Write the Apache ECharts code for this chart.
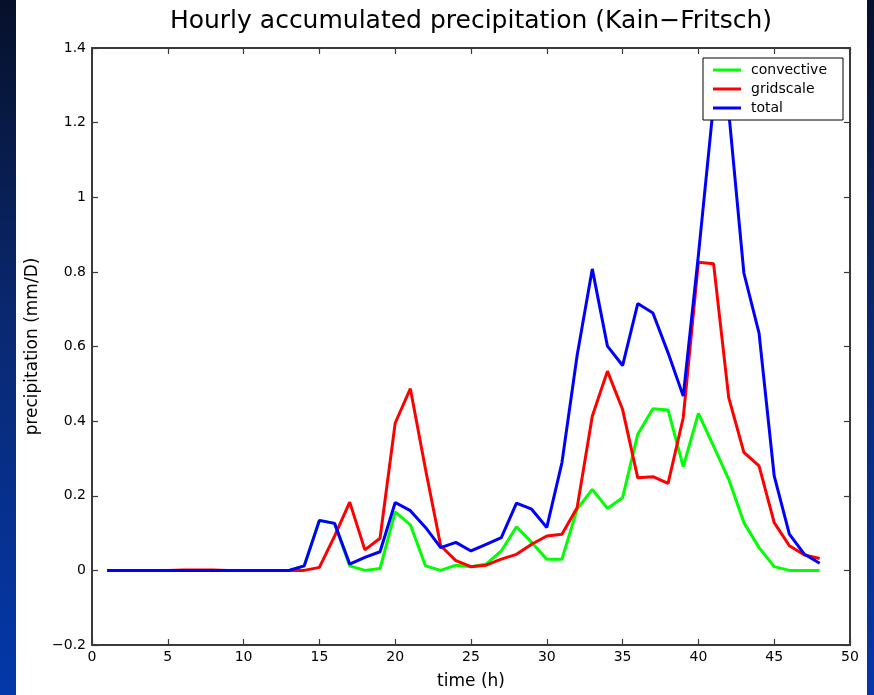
<!DOCTYPE html>
<html>
<head>
<meta charset="utf-8">
<script src="https://cdn.jsdelivr.net/npm/echarts@6/dist/echarts.min.js"></script>
<style>
  html, body { margin: 0; padding: 0; }
  #chart { width: 874px; height: 695px; }
</style>
</head>
<body>
<div id="chart"></div>
<script>
// ---- data ----
const titleText = 'Hourly accumulated precipitation (Kain\u2212Fritsch)';
const xAxisTitle = 'time (h)';
const yAxisTitle = 'precipitation (mm/D)';
const seriesNames = ['convective', 'gridscale', 'total'];
const hours = [1,2,3,4,5,6,7,8,9,10,11,12,13,14,15,16,17,18,19,20,21,22,23,24,25,26,27,28,29,30,31,32,33,34,35,36,37,38,39,40,41,42,43,44,45,46,47,48];
const convective = [0,0,0,0,0,0,0,0,0,0,0,0,0,0.012,0.134,0.126,0.012,0.0,0.005,0.157,0.122,0.012,0.0,0.014,0.010,0.017,0.052,0.117,0.075,0.030,0.030,0.164,0.217,0.166,0.195,0.365,0.433,0.430,0.278,0.421,0.333,0.244,0.128,0.061,0.010,0,0,0];
const gridscale = [0,0,0,0,0,0.001,0.001,0.001,0,0,0,0,0,0.0,0.008,0.092,0.183,0.055,0.086,0.395,0.487,0.271,0.066,0.026,0.010,0.014,0.030,0.043,0.070,0.092,0.097,0.168,0.413,0.534,0.431,0.248,0.251,0.233,0.409,0.826,0.822,0.463,0.316,0.280,0.128,0.066,0.041,0.032];
const total = [0,0,0,0,0,0,0,0,0,0,0,0,0,0.012,0.134,0.126,0.017,0.035,0.050,0.182,0.160,0.115,0.061,0.075,0.052,0.070,0.088,0.180,0.164,0.115,0.289,0.576,0.808,0.601,0.549,0.715,0.690,0.583,0.467,0.845,1.25,1.23,0.797,0.636,0.253,0.097,0.043,0.019];
const xTicks = [0,5,10,15,20,25,30,35,40,45,50];
const yTicks = [-0.2,0,0.2,0.4,0.6,0.8,1,1.2,1.4];

// ---- style ----
const FONT = 'DejaVu Sans';
const colors = ['#00ff00', '#ff0000', '#0000ff'];
const axisColor = '#3a3a3a';

function fmtY(v) {
  const r = Math.round(v * 10) / 10;
  return String(r).replace('-', '\u2212');
}

function pairs(arr) { return hours.map((h, i) => [h, arr[i]]); }

const chart = echarts.init(document.getElementById('chart'), null, { renderer: 'canvas' });

const baseAxisLine = { show: true, onZero: false, lineStyle: { color: axisColor, width: 2 } };
const tickStyle = { show: true, inside: true, length: 6, lineStyle: { color: axisColor, width: 1.2 } };

const option = {
  animation: false,
  backgroundColor: {
    type: 'linear', x: 0, y: 0, x2: 0, y2: 1,
    colorStops: [
      { offset: 0, color: '#06102a' },
      { offset: 0.45, color: '#0a2870' },
      { offset: 1, color: '#0338aa' }
    ]
  },
  graphic: [
    { type: 'rect', z: -10, silent: true, shape: { x: 16, y: 0, width: 851, height: 695 }, style: { fill: '#ffffff' } },
    { type: 'text', z: 10, silent: true, x: 471, y: 21,
      style: { text: titleText, font: '25px "' + FONT + '"', fill: '#000', align: 'center', verticalAlign: 'middle' } }
  ],
  grid: { left: 92, right: 24, top: 48, bottom: 49, containLabel: false },
  legend: {
    data: seriesNames,
    orient: 'vertical',
    left: 703, top: 58,
    z: 20,
    padding: [5, 16, 5, 10],
    itemGap: 5,
    itemWidth: 28,
    itemHeight: 3,
    icon: 'rect',
    backgroundColor: '#ffffff',
    borderColor: '#000000',
    borderWidth: 1,
    borderRadius: 0,
    textStyle: { fontFamily: FONT, fontSize: 14, color: '#000', padding: [0, 0, 0, 5] }
  },
  xAxis: [
    {
      type: 'value', min: 0, max: 50, interval: 5, position: 'bottom',
      name: xAxisTitle, nameLocation: 'middle', nameGap: 28,
      nameTextStyle: { fontFamily: FONT, fontSize: 17, color: '#000' },
      axisLine: baseAxisLine, axisTick: tickStyle,
      axisLabel: { fontFamily: FONT, fontSize: 14, color: '#000', margin: 5,
        formatter: v => xTicks.includes(v) ? String(v) : '' },
      splitLine: { show: false }
    },
    {
      type: 'value', min: 0, max: 50, interval: 5, position: 'top',
      axisLine: baseAxisLine, axisTick: tickStyle,
      axisLabel: { show: false }, splitLine: { show: false }
    }
  ],
  yAxis: [
    {
      type: 'value', min: -0.2, max: 1.4, interval: 0.2, position: 'left',
      name: yAxisTitle, nameLocation: 'middle', nameGap: 46, nameRotate: 90,
      nameTextStyle: { fontFamily: FONT, fontSize: 17, color: '#000' },
      axisLine: baseAxisLine, axisTick: tickStyle,
      axisLabel: { fontFamily: FONT, fontSize: 14, color: '#000', margin: 6, formatter: fmtY },
      splitLine: { show: false }
    },
    {
      type: 'value', min: -0.2, max: 1.4, interval: 0.2, position: 'right',
      axisLine: baseAxisLine, axisTick: tickStyle,
      axisLabel: { show: false }, splitLine: { show: false }
    }
  ],
  series: [
    { name: seriesNames[0], type: 'line', data: pairs(convective), symbol: 'none', color: colors[0],
      itemStyle: { color: colors[0] }, lineStyle: { width: 3, color: colors[0] }, z: 2 },
    { name: seriesNames[1], type: 'line', data: pairs(gridscale), symbol: 'none', color: colors[1],
      itemStyle: { color: colors[1] }, lineStyle: { width: 3, color: colors[1] }, z: 3 },
    { name: seriesNames[2], type: 'line', data: pairs(total), symbol: 'none', color: colors[2],
      itemStyle: { color: colors[2] }, lineStyle: { width: 3, color: colors[2] }, z: 4 }
  ]
};

chart.setOption(option);
</script>
</body>
</html>
